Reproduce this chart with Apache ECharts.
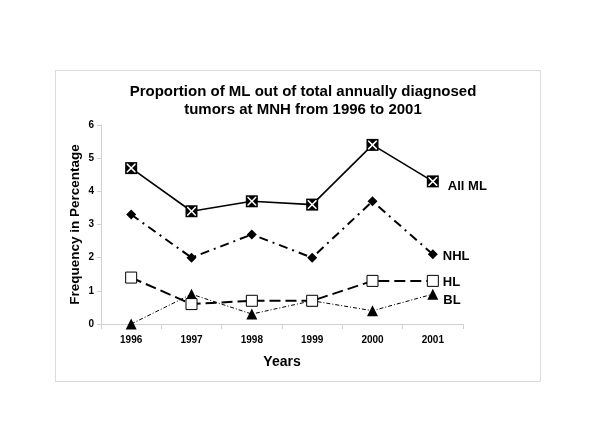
<!DOCTYPE html>
<html><head><meta charset="utf-8">
<script src="https://cdn.jsdelivr.net/npm/echarts@6/dist/echarts.min.js"></script>
<style>html,body{margin:0;padding:0;background:#fff}#c{width:600px;height:424px}
#frame{position:absolute;left:55px;top:70px;width:484px;height:310px;border:1px solid #dcdcdc;pointer-events:none}</style>
</head><body><div id="c"></div><div id="frame"></div>
<script>
const years = ['1996','1997','1998','1999','2000','2001'];
const allML = [4.7, 3.4, 3.7, 3.6, 5.4, 4.3];
const nhl = [3.3, 2.0, 2.7, 2.0, 3.7, 2.1];
const hl = [1.4, 0.6, 0.7, 0.7, 1.3, 1.3];
const bl = [0.0, 0.9, 0.3, 0.7, 0.4, 0.9];
const yTicks = [0, 1, 2, 3, 4, 5, 6];

const FONT = 'Liberation Sans, Arial, sans-serif';
function withEndLabel(arr, text, offset) {
  return arr.map((v, i) => i === arr.length - 1 ? {
    value: v,
    label: {show: true, position: 'right', formatter: text, offset: offset,
      fontFamily: FONT, fontWeight: 'bold', fontSize: 13, color: '#000'}
  } : v);
}
const xPath = 'path://M0,0 L1.2,0 L5,3.8 L8.8,0 L10,0 L10,1.2 L6.2,5 L10,8.8 L10,10 L8.8,10 L5,6.2 L1.2,10 L0,10 L0,8.8 L3.8,5 L0,1.2 Z';

const chart = echarts.init(document.getElementById('c'), null, {renderer: 'canvas'});
chart.setOption({
  animation: false,
  title: {
    text: 'Proportion of ML out of total annually diagnosed\ntumors at MNH from 1996 to 2001',
    left: 298, top: 78, textAlign: 'center',
    textStyle: {fontFamily: FONT, fontWeight: 'bold', fontSize: 15, lineHeight: 18, color: '#000'}
  },
  grid: {left: 101, right: 137, top: 125, bottom: 100},
  xAxis: {
    type: 'category', data: years, boundaryGap: true,
    name: 'Years', nameLocation: 'middle', nameGap: 31,
    nameTextStyle: {fontFamily: FONT, fontWeight: 'bold', fontSize: 14, color: '#000'},
    axisLine: {lineStyle: {color: '#d0d0d0', width: 1}},
    axisTick: {show: true, length: 5, lineStyle: {color: '#d0d0d0'}},
    axisLabel: {fontFamily: FONT, fontWeight: 'bold', fontSize: 10, color: '#000', margin: 11},
    splitLine: {show: false}
  },
  yAxis: {
    type: 'value', min: yTicks[0], max: yTicks[yTicks.length - 1], interval: 1,
    name: 'Frequency in Percentage', nameLocation: 'middle', nameGap: 19, nameRotate: 90,
    nameMoveOverlap: false,
    nameTextStyle: {fontFamily: FONT, fontWeight: 'bold', fontSize: 13.5, color: '#000'},
    axisLine: {show: true, lineStyle: {color: '#d0d0d0', width: 1}},
    axisTick: {show: true, length: 4, lineStyle: {color: '#d0d0d0'}},
    axisLabel: {fontFamily: FONT, fontWeight: 'bold', fontSize: 10, color: '#000', margin: 7},
    splitLine: {show: false}
  },
  series: [
    {
      name: 'All ML', type: 'line', data: withEndLabel(allML, 'All ML', [4, 5]),
      symbol: 'rect', symbolSize: 12, showAllSymbol: true,
      itemStyle: {color: '#000'},
      lineStyle: {color: '#000', width: 1.6, type: 'solid'}, z: 5
    },
    {
      name: 'All ML X', type: 'line', data: allML,
      symbol: xPath, symbolSize: 9, silent: true,
      itemStyle: {color: '#fff'},
      lineStyle: {opacity: 0}, z: 6
    },
    {
      name: 'NHL', type: 'line', data: withEndLabel(nhl, 'NHL', [0, 2]),
      symbol: 'diamond', symbolSize: 10,
      itemStyle: {color: '#000'},
      lineStyle: {color: '#000', width: 2, type: [9, 5, 2, 5]}, z: 4
    },
    {
      name: 'HL', type: 'line', data: withEndLabel(hl, 'HL', [-1, 2]),
      symbol: 'rect', symbolSize: 11,
      itemStyle: {color: '#fff', borderColor: '#000', borderWidth: 1},
      lineStyle: {color: '#000', width: 2, type: [11, 5]}, z: 4
    },
    {
      name: 'BL', type: 'line', data: withEndLabel(bl, 'BL', [0, 6]),
      symbol: 'triangle', symbolSize: 11,
      itemStyle: {color: '#000'},
      lineStyle: {color: '#000', width: 1, type: [4, 2, 1, 2]}, z: 3
    }
  ]
});
</script></body></html>
